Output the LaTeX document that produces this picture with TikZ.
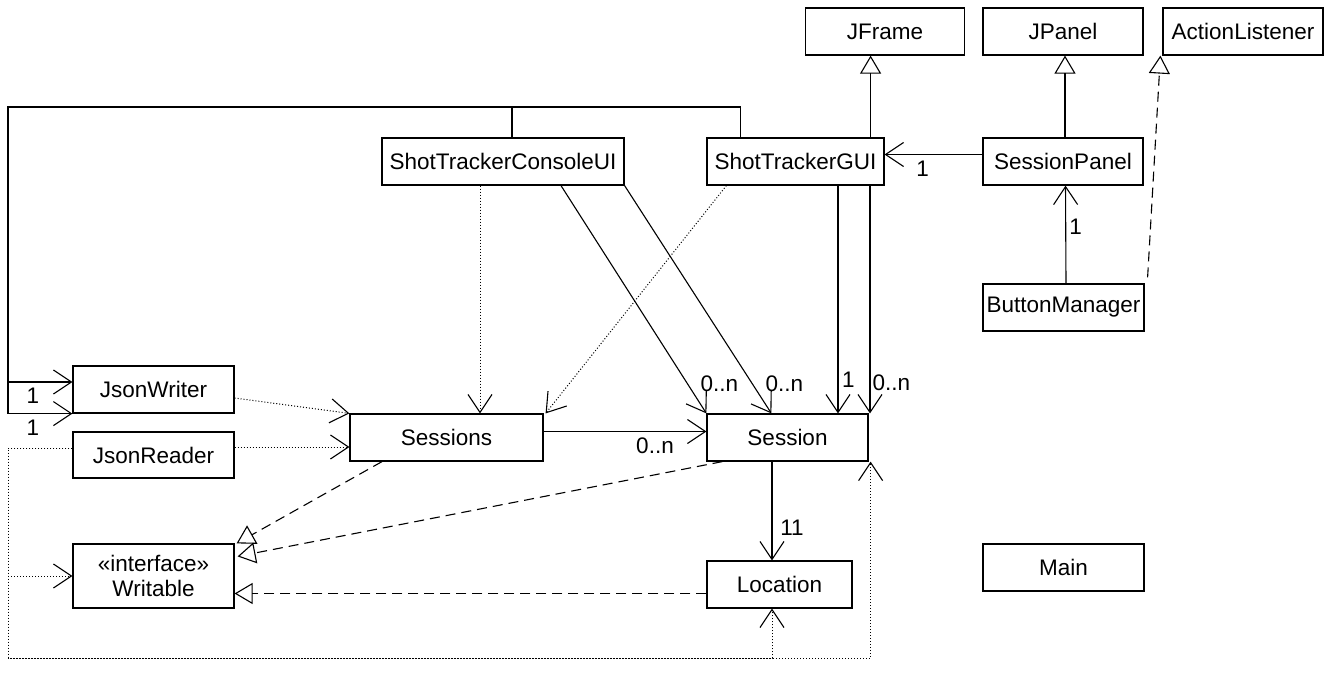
\documentclass[tikz,border=0pt]{standalone}
\usepackage{fontspec}
\setmainfont{Liberation Sans}
\usepackage{tikz}
\usetikzlibrary{arrows.meta,calc,positioning}

\begin{document}
\begin{tikzpicture}[x=1pt,y=-1pt,
		cls/.style={draw,line width=1.2pt,minimum height=47pt,inner sep=0pt,font=\fontsize{22.5pt}{25.5pt}\selectfont,align=center},
		lbl/.style={inner sep=1pt,font=\fontsize{22.5pt}{25.5pt}\selectfont},
		assoc/.style={line width=1.1pt,-{Straight Barb[length=18pt,width=24pt]}},
		inherit/.style={line width=1.1pt,-{Triangle[open,length=18pt,width=21pt]}},
		realize/.style={inherit,dash pattern=on 10pt off 6pt},
		depend/.style={line width=1pt,dash pattern=on 1pt off 2pt,-{Straight Barb[length=18pt,width=24pt,line width=1.1pt]}},
		dotline/.style={line width=1pt,dash pattern=on 1pt off 2pt}]
		\useasboundingbox (0,0) rectangle (1333,672);
		% classes
		\node[cls,minimum width=159pt] (jframe) at (885,31.5) {JFrame};
		\node[cls,minimum width=160pt] (jpanel) at (1063,31.5) {JPanel};
		\node[cls,minimum width=160pt] (actionlistener) at (1243,31.5) {ActionListener};
		\node[cls,minimum width=242pt] (consoleui) at (503,161.5) {ShotTrackerConsoleUI};
		\node[cls,minimum width=177pt] (gui) at (795.5,161.5) {ShotTrackerGUI};
		\node[cls,minimum width=160pt] (sessionpanel) at (1063,161.5) {SessionPanel};
		\node[cls,minimum width=161pt] (buttonmanager) at (1063.5,307.5) {ButtonManager};
		\node[cls,minimum width=161pt] (main) at (1063.5,567.5) {Main};
		\node[cls,minimum width=161pt] (jsonwriter) at (153.5,389.5) {JsonWriter};
		\node[cls,minimum width=161pt,minimum height=46pt] (jsonreader) at (153.5,455) {JsonReader};
		\node[cls,minimum width=161pt,minimum height=64pt] (writable) at (153.5,576) {«interface»\\Writable};
		\node[cls,minimum width=193pt] (sessions) at (446.5,437.5) {Sessions};
		\node[cls,minimum width=161pt] (session) at (787.5,437.5) {Session};
		\node[cls,minimum width=145pt] (location) at (779.5,584.5) {Location};

		% generalisation and realisation
		\draw[inherit] ([xshift=-14pt]gui.north east) -- ([xshift=-14pt]gui.north east |- jframe.south);
		\draw[inherit] ([xshift=2pt]sessionpanel.north) -- ([xshift=2pt]jpanel.south);
		\draw[realize] ([shift={(3pt,6pt)}]buttonmanager.north east) -- ([xshift=-2pt]actionlistener.south west);
		\draw[realize] ([xshift=-64.5pt]sessions.south) -- ([xshift=2pt]writable.north east);
		\draw[realize] ([xshift=16pt]session.south west) -- ([shift={(3pt,-13pt)}]writable.north east);
		\draw[realize] ([yshift=-9pt]location.west) -- ([yshift=-9pt]location.west -| writable.east);

		% associations
		\draw[assoc] ([yshift=7pt]sessionpanel.west) -- node[lbl,pos=0.61,below=5pt] (m1) {1} ([yshift=7pt]gui.east);
		\draw[assoc] ([xshift=2.5pt]buttonmanager.north) -- node[lbl,pos=0.58,right=2pt] (m2) {1} ([xshift=2.5pt]sessionpanel.south);
		\draw[assoc] ([xshift=58pt]consoleui.south) -- (session.north west);
		\draw[assoc] (consoleui.south east) -- ([xshift=65pt]session.north west);
		\draw[assoc] ([xshift=42.5pt]gui.south) -- ([xshift=42.5pt]gui.south |- session.north);
		\draw[assoc] ([xshift=74.5pt]gui.south) -- ([xshift=74.5pt]gui.south |- session.north);
		\draw[assoc] ([yshift=6pt]sessions.east) -- ([yshift=6pt]sessions.east -| session.west);
		\draw[assoc] ([xshift=-15.5pt]session.south) -- ([xshift=-15.5pt]session.south |- location.north);
		\node[lbl] (m3) at ([shift={(13pt,29.5pt)}]session.north west) {0..n};
		\node[lbl] (m4) at ([shift={(78pt,29.5pt)}]session.north west) {0..n};
		\node[lbl] (m5) at ([shift={(142pt,34pt)}]session.north west) {1};
		\node[lbl] (m6) at ([shift={(185pt,31pt)}]session.north west) {0..n};
		\node[lbl] (m7) at (655,446) {0..n};
		\node[lbl] (m8) at (792,528) {11};

		% loop to JsonWriter
		\coordinate (lp) at (8,107);
		\draw[assoc] ([xshift=9pt]consoleui.north) |- (lp) |- ([yshift=7.5pt]jsonwriter.west);
		\draw[assoc] ([xshift=34pt]gui.north west) |- (lp) |- (jsonwriter.south west);
		\node[lbl] (m9) at (33,396) {1};
		\node[lbl] (m10) at (33,428) {1};

		% dependencies
		\draw[depend] ([xshift=-23pt]consoleui.south) -- ([xshift=-23pt]consoleui.south |- sessions.north);
		\draw[depend] ([xshift=20pt]gui.south west) -- ([xshift=2pt]sessions.north east);
		\draw[depend] ([yshift=-8.5pt]jsonwriter.east) -- (sessions.north west);
		\draw[depend] ([yshift=8pt]jsonreader.east) -- ([yshift=8pt]jsonreader.east -| sessions.west);
		\coordinate (dl) at (8,658);
		\draw[depend] ([yshift=7pt]jsonreader.west) -| (dl) -| ([xshift=-7.5pt]location.south);
		\draw[depend] (dl) -| ([xshift=2pt]session.south east);
		\draw[depend] (dl |- writable.west) -- (writable.west);
	\end{tikzpicture}
\end{document}
